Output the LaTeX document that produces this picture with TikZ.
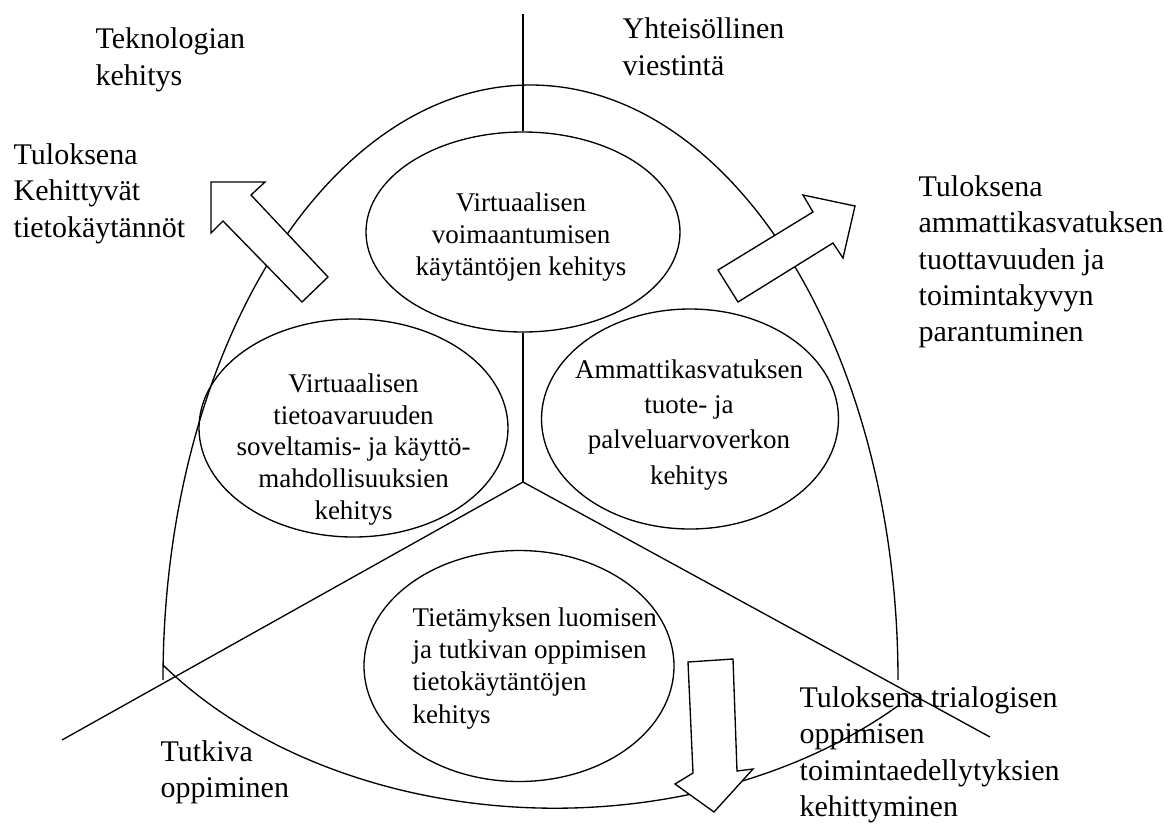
\documentclass[tikz,border=0pt]{standalone}
\usepackage{fontspec}
\setmainfont{Liberation Serif}
\usetikzlibrary{shapes.geometric}
\begin{document}
\begin{tikzpicture}[x=0.75pt,y=-0.75pt,
  line width=1pt,
  oval/.style={draw, ellipse, inner sep=0pt},
  lbl/.style={inner sep=0pt, anchor=north west, align=left,
    font=\fontsize{22.5}{27.2}\selectfont},
  inlbl/.style={inner sep=0pt, anchor=north, align=center,
    font=\fontsize{20.25}{24.2}\selectfont},
  blockarrow/.style={draw, fill=white, line join=miter}]
\useasboundingbox (0,0) rectangle (1165,826);

% outer arch and the arc closing it at the bottom
\draw (163,680) arc[start angle=180, end angle=360, x radius=367.5, y radius=595];
\draw (163,665) arc[start angle=143.13, end angle=45.57, x radius=490, y radius=358];

% the four development areas
\node[oval, minimum width=235.5pt, minimum height=150pt] (eTop) at (523,232) {};
\node[oval, minimum width=231.75pt, minimum height=163.5pt] (eLeft) at (353.5,428) {};
\node[oval, minimum width=222.75pt, minimum height=165pt] (eRight) at (690,419) {};
\node[oval, minimum width=232.5pt, minimum height=173.25pt] (eBot) at (519,666) {};

% dividing lines
\coordinate (apex) at (523,14);
\coordinate (hub) at (523,482);
\coordinate (endL) at (62,740);
\coordinate (endR) at (990,737);
\draw (apex) -- (eTop.north);
\draw (eTop.south) -- (hub);
\draw (hub) -- (endL);
\draw (hub) -- (endR);

% outcome arrows
\draw[blockarrow] (211,182) -- (265,182) -- (251,195) -- (328,277) -- (302,302)
  -- (223,221) -- (211,233) -- cycle;
\draw[blockarrow] (855,206) -- (843,258) -- (833,243) -- (738,302) -- (718,270)
  -- (813,212) -- (803,195) -- cycle;
\draw[blockarrow] (714,812) -- (753,769) -- (737,771) -- (733,659) -- (688,662)
  -- (693,773) -- (675,784) -- cycle;

% texts inside the ovals
\node[inlbl] (tTop) at (521,191.6) {Virtuaalisen\\voimaantumisen\\käytäntöjen kehitys};
\node[inlbl, font=\fontsize{20.25}{23.8}\selectfont] (tLeft) at (353.5,373) {Virtuaalisen\\tietoavaruuden\\soveltamis- ja käyttö-\\mahdollisuuksien\\kehitys};
\node[inlbl, font=\fontsize{20.25}{26.4}\selectfont] (tRight) at (689,359) {Ammattikasvatuksen\\tuote- ja\\palveluarvoverkon\\kehitys};
\node[inlbl, anchor=north west, align=left] (tBot) at (412,607) {Tietämyksen luomisen\\ja tutkivan oppimisen\\tietokäytäntöjen\\kehitys};

% labels around the figure
\node[lbl] (tek) at (95,27.5) {Teknologian\\kehitys};
\node[lbl] (yht) at (622,17.5) {Yhteisöllinen\\viestintä};
\node[lbl] (resL) at (13,143) {Tuloksena\\Kehittyvät\\tietokäytännöt};
\node[lbl] (resR) at (918,175) {Tuloksena\\ammattikasvatuksen\\tuottavuuden ja\\toimintakyvyn\\parantuminen};
\node[lbl] (resB) at (799,686) {Tuloksena trialogisen\\oppimisen\\toimintaedellytyksien\\kehittyminen};
\node[lbl] (tut) at (160,740) {Tutkiva\\oppiminen};
\end{tikzpicture}
\end{document}
